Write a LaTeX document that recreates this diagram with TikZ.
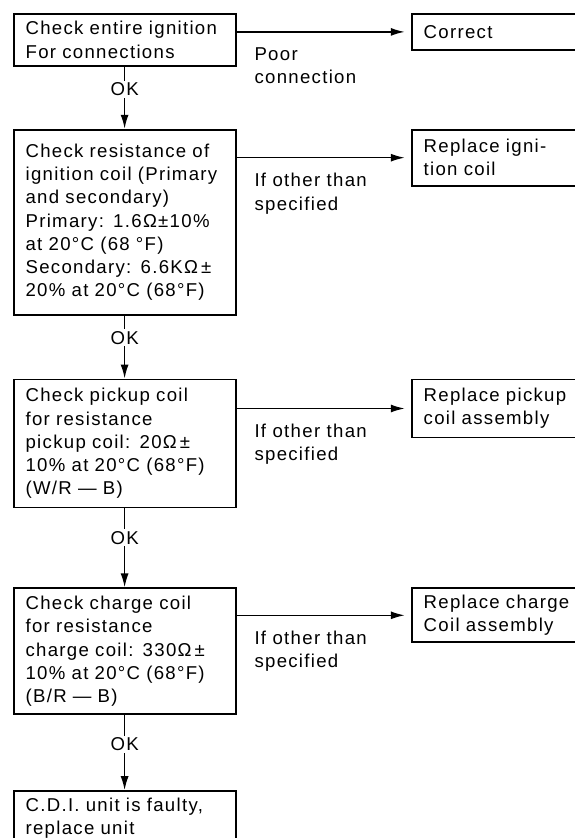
\documentclass[tikz,border=0pt]{standalone}
\usepackage{fontspec}
\setmainfont{Liberation Sans}[LetterSpace=7.0]
\usetikzlibrary{arrows.meta,positioning}

\begin{document}
\begin{tikzpicture}[
 font=\fontsize{9.3}{11.6}\selectfont,
 box/.style={draw,line width=0.9pt,align=left,inner ysep=3pt},
 chk/.style={box,text width=99pt,inner xsep=6pt},
 fix/.style={box,text width=85pt,inner xsep=6pt},
 lbl/.style={align=left,anchor=north west,inner sep=0pt,xshift=8.6pt,yshift=-7.5pt},
 ok/.style={fill=white,inner sep=1pt},
 arrow/.style={-{Latex[length=7pt,width=4pt]},line width=0.8pt}
]
\useasboundingbox (0,0) rectangle (287pt,-419pt);
% checks down the left side
\node[chk,anchor=north west,minimum height=26pt] (ign) at (6.35pt,-6.5pt) {Check entire ignition\\For connections};
\node[chk,below=31pt of ign,minimum height=92.5pt] (igcoil) {Check resistance of\\ignition coil (Primary\\and secondary)\\Primary: 1.6Ω±10\%\\at 20°C (68 °F)\\Secondary: 6.6KΩ\,±\\20\% at 20°C (68°F)};
\node[chk,below=31.5pt of igcoil,minimum height=64pt] (pickup) {Check pickup coil\\for resistance\\pickup coil: 20Ω\,±\\10\% at 20°C (68°F)\\(W/R --- B)};
\node[chk,below=39.5pt of pickup,minimum height=63pt] (charge) {Check charge coil\\for resistance\\charge coil: 330Ω\,±\\10\% at 20°C (68°F)\\(B/R --- B)};
\node[chk,below=37.5pt of charge,minimum height=27pt] (cdi) {C.D.I. unit is faulty,\\replace unit};
% remedies on the right
\node[fix,below right=0pt and 87.15pt of ign.north east,minimum height=18pt] (correct) {Correct};
\node[fix,below right=0pt and 87.15pt of igcoil.north east,minimum height=28pt] (newcoil) {Replace igni-\\tion coil};
\node[fix,below right=0pt and 87.15pt of pickup.north east,minimum height=29pt] (newpickup) {Replace pickup\\coil assembly};
\node[fix,below right=0pt and 87.15pt of charge.north east,minimum height=27pt] (newcharge) {Replace charge\\Coil assembly};
\draw[arrow] (ign) -- node[ok,pos=0.36]{OK} (igcoil);
\draw[arrow] (igcoil) -- node[ok,pos=0.35]{OK} (pickup);
\draw[arrow] (pickup) -- node[ok,pos=0.37]{OK} (charge);
\draw[arrow] (charge) -- node[ok,pos=0.39]{OK} (cdi);
\draw[arrow,shorten >=3pt] (correct.west -| ign.east) -- node[lbl,pos=0]{Poor\\connection} (correct.west);
\draw[arrow,shorten >=3pt] (newcoil.west -| igcoil.east) -- node[lbl,pos=0]{If other than\\specified} (newcoil.west);
\draw[arrow,shorten >=3pt] (newpickup.west -| pickup.east) -- node[lbl,pos=0]{If other than\\specified} (newpickup.west);
\draw[arrow,shorten >=3pt] (newcharge.west -| charge.east) -- node[lbl,pos=0]{If other than\\specified} (newcharge.west);
\end{tikzpicture}
\end{document}
